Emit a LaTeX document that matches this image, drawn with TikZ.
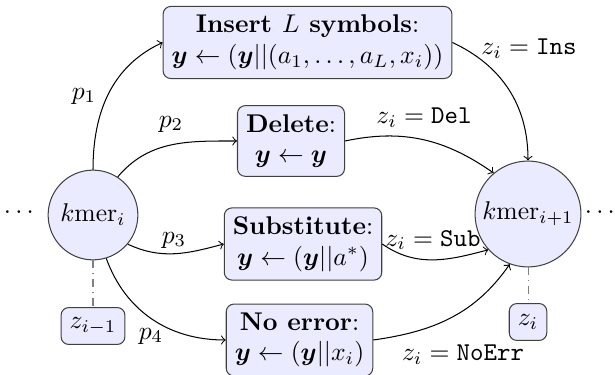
\documentclass[tikz,border=0pt]{standalone}
\usepackage{amsmath,amssymb,bm}
\tikzset{every picture/.style={line width=0.4pt}}
\tikzset{
  opbox/.style={draw=black!75, fill=blue!8, rounded corners=3pt, align=center},
  kstate/.style={circle, draw=black!75, fill=blue!8, inner sep=1pt},
  zbox/.style={draw=black!75, fill=blue!8, rounded corners=3pt, minimum height=14.4pt},
  transition/.style={->, black},
  obsline/.style={gray, dash dot},
}

\begin{document}
\begin{tikzpicture}[x=0.39pt,y=0.39pt,yscale=-1,xscale=1]
    \useasboundingbox (0,0) rectangle (615,375);

    % States
    \node [kstate, minimum size=35pt] (kmerA) at (93,215) {$k\mathrm{mer}_i$};
    \node [kstate, minimum size=41.3pt] (kmerB) at (528,214) {$k\mathrm{mer}_{i+1}$};
    \node (dotsA) at (21,213) {$\cdots$};
    \node (dotsB) at (602,213) {$\cdots$};

    % Operations
    \node [opbox] (ins) at (307.5,42.5) {\textbf{Insert $L$ symbols}:\\ $\bm{y} \leftarrow (\bm{y}||(a_1,\dots,a_L,x_i))$};
    \node [opbox] (del) at (291,141) {\textbf{Delete}:\\ $\bm{y} \leftarrow \bm{y}$};
    \node [opbox] (sub) at (303,244) {\textbf{Substitute}:\\ $\bm{y} \leftarrow (\bm{y}||a^*)$};
    \node [opbox] (noerr) at (299.5,340) {\textbf{No error}:\\ $\bm{y} \leftarrow (\bm{y}||x_i)$};

    % Error indicators
    \node [zbox] (zA) at (93,326) {$z_{i-1}$};
    \node [zbox] (zB) at (528,322) {$z_i$};

    % Transitions out of kmer_i (angles flipped by yscale=-1)
    \draw [transition] (kmerA.north) to [out=-90,in=155] (ins.west);
    \draw [transition] (kmerA.57) to [out=-50,in=180] (del.west);
    \draw [transition] (kmerA.-40) to [out=25,in=165] (sub.west);
    \draw [transition] (kmerA.-73) to [out=70,in=180] (noerr.west);

    % Transitions into kmer_{i+1}
    \draw [transition] (ins.east) to [out=25,in=-90] (kmerB.north);
    \draw [transition] (del.east) to [out=-12,in=-145] (kmerB.130);
    \draw [transition] (sub.east) to [out=35,in=165] (kmerB.222);
    \draw [transition] (noerr.east) to [out=-8,in=125] (kmerB.250);

    % Dash-dot links
    \draw [obsline] (kmerA.south) -- (zA.north);
    \draw [obsline] (kmerB.south) -- (zB.north);

    % Text Node
    \node (p1) at (84,96) {$p_1$};
    \node (p2) at (171,124) {$p_2$};
    \node (p3) at (174,240) {$p_3$};
    \node (p4) at (151,336) {$p_4$};
    \node (zIns) at (529,49) {$z_i = \texttt{Ins}$};
    \node (zDel) at (424,118) {$z_i = \texttt{Del}$};
    \node (zSub) at (433,240) {$z_i = \texttt{Sub}$};
    \node (zNoErr) at (463,355) {$z_i = \texttt{NoErr}$};

\end{tikzpicture}
\end{document}
